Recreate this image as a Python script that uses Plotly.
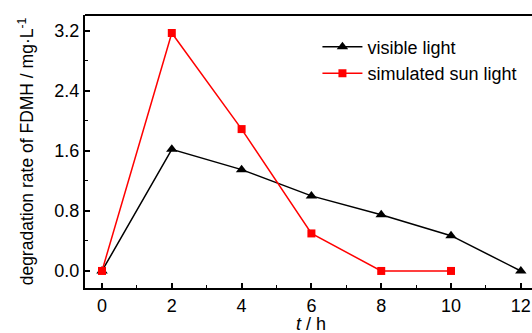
import plotly.graph_objects as go

t_visible = [0, 2, 4, 6, 8, 10, 12]
visible_light = [0.0, 1.62, 1.35, 1.0, 0.75, 0.47, 0.0]
t_sun = [0, 2, 4, 6, 8, 10]
sun_light = [0.0, 3.17, 1.89, 0.5, 0.0, 0.0]

x_ticks = [0, 2, 4, 6, 8, 10, 12]
y_ticks = [0.0, 0.8, 1.6, 2.4, 3.2]
y_labels = ["0.0", "0.8", "1.6", "2.4", "3.2"]

font = "Liberation Sans, Arial, sans-serif"

fig = go.Figure()
fig.add_trace(go.Scatter(x=t_visible, y=visible_light, mode="lines+markers",
                         name="visible light",
                         line=dict(color="black", width=1.5),
                         marker=dict(symbol="triangle-up", size=10, color="black")))
fig.add_trace(go.Scatter(x=t_sun, y=sun_light, mode="lines+markers",
                         name="simulated sun light",
                         line=dict(color="#ff0000", width=1.5),
                         marker=dict(symbol="square", size=8, color="#ff0000")))

fig.update_layout(
    width=532, height=333,
    margin=dict(l=85, r=0, t=15, b=45),
    paper_bgcolor="white", plot_bgcolor="white",
    font=dict(family=font, color="black", size=18),
    showlegend=True,
    legend=dict(x=0.52, y=0.95, xanchor="left", yanchor="top",
                bgcolor="rgba(0,0,0,0)", font=dict(size=18),
                tracegroupgap=0, itemwidth=40),
    xaxis=dict(range=[-0.487, 12.32], tickmode="array", tickvals=x_ticks,
               ticks="inside", ticklen=5, tickwidth=1.5, tickcolor="black",
               showline=True, linecolor="black", linewidth=2, mirror=False,
               showgrid=False, zeroline=False, tickfont=dict(size=18),
               minor=dict(dtick=1, ticks="inside", ticklen=3, tickcolor="black", tickwidth=1)),
    yaxis=dict(range=[-0.227, 3.41], tickmode="array", tickvals=y_ticks, ticktext=y_labels,
               ticks="inside", ticklen=5, tickwidth=1.5, tickcolor="black",
               showline=True, linecolor="black", linewidth=2, mirror=False,
               showgrid=False, zeroline=False, tickfont=dict(size=18),
               minor=dict(dtick=0.4, ticks="inside", ticklen=3, tickcolor="black", tickwidth=1),
               title=dict(text="degradation rate of FDMH / mg·L<sup>-1</sup>", standoff=16,
                          font=dict(size=17.5))),
)
# x-axis title
fig.add_annotation(text="<i>t</i> / h", xref="x", yref="paper", x=6, y=-0.165,
                   xanchor="center", yanchor="bottom", showarrow=False,
                   font=dict(size=18), yshift=-3)
# top frame line
fig.add_shape(type="line", xref="paper", yref="paper", x0=0, x1=1, y0=1, y1=1,
              line=dict(color="black", width=2))

fig.write_html("out.html")
